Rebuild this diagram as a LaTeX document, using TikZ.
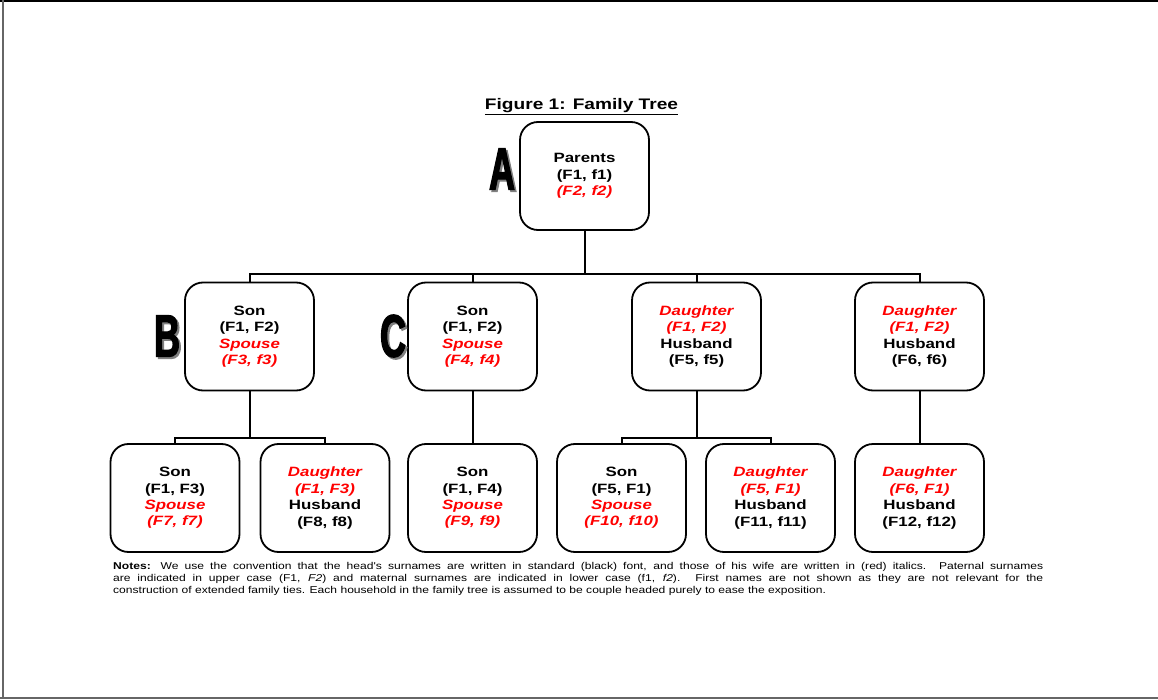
\documentclass[tikz,border=0pt]{standalone}
\usepackage{fontspec}
\setmainfont{Liberation Sans}
\newfontfamily\wfont[FakeStretch=1.25]{Liberation Sans}
\newfontfamily\nfont[FakeStretch=1.22]{Liberation Sans}
\newfontfamily\bigfont[FakeStretch=0.6,FakeBold=2]{Liberation Sans}
\definecolor{redtxt}{RGB}{255,0,0}
\newcommand{\rd}[1]{\textcolor{redtxt}{\itshape #1}}
\tikzset{
  famnode/.style={draw, line width=1.8pt, rounded corners=18pt, minimum width=129pt, minimum height=108pt, align=center, inner sep=2pt,
    font=\wfont\bfseries\fontsize{13.5}{16.4}\selectfont, execute at begin node={\rule{0pt}{14pt}}},
  famlink/.style={draw, line width=2pt},
  biglet/.style={font=\bigfont\bfseries\fontsize{60}{60}\selectfont, inner sep=0pt},
}
\begin{document}
\begin{tikzpicture}[x=1pt,y=-1pt]
\useasboundingbox (0,0) rectangle (1158,700);
% frame
\draw[line width=1.5pt] (0,1) -- (1158,1);
\draw[line width=2.5pt, gray!80!black] (3,0) -- (3,698);
\draw[line width=2pt, gray!80!black] (0,698) -- (1158,698);
% title
\node[font=\wfont\bfseries\fontsize{15.3}{18}\selectfont, inner sep=0pt] (title) at (581.5,106.5) {\underline{Figure 1: Family Tree}};
% boxes
\node[famnode] (P) at (584.5,176) {Parents\\(F1, f1)\\\rd{(F2, f2)}};
\node[famnode] (b1) at (249.5,336.5) {Son\\(F1, F2)\\\rd{Spouse}\\\rd{(F3, f3)}};
\node[famnode] (b2) at (472.5,336.5) {Son\\(F1, F2)\\\rd{Spouse}\\\rd{(F4, f4)}};
\node[famnode] (b3) at (696.5,336.5) {\rd{Daughter}\\\rd{(F1, F2)}\\Husband\\(F5, f5)};
\node[famnode] (b4) at (919.5,336.5) {\rd{Daughter}\\\rd{(F1, F2)}\\Husband\\(F6, f6)};
\node[famnode] (c1) at (175,498) {Son\\(F1, F3)\\\rd{Spouse}\\\rd{(F7, f7)}};
\node[famnode] (c2) at (325,498) {\rd{Daughter}\\\rd{(F1, F3)}\\Husband\\(F8, f8)};
\node[famnode] (c3) at (472.5,498) {Son\\(F1, F4)\\\rd{Spouse}\\\rd{(F9, f9)}};
\node[famnode] (c4) at (621.5,498) {Son\\(F5, F1)\\\rd{Spouse}\\\rd{(F10, f10)}};
\node[famnode] (c5) at (770.5,498) {\rd{Daughter}\\\rd{(F5, F1)}\\Husband\\(F11, f11)};
\node[famnode] (c6) at (919.5,498) {\rd{Daughter}\\\rd{(F6, F1)}\\Husband\\(F12, f12)};
% letters
\node[biglet, text=gray] (As) at (504,171) {A};
\node[biglet] (A) at (502,169) {A};
\node[biglet, text=gray] (Bs) at (169,338) {B};
\node[biglet] (B) at (167,336) {B};
\node[biglet, text=gray] (Cs) at (395,338) {C};
\node[biglet] (C) at (393,336) {C};
% connectors
\coordinate (j0) at (584.5,274);
\coordinate (j1) at (249.5,438);
\coordinate (j3) at (696.5,438);
\draw[famlink] (P.south) -- (j0);
\draw[famlink] (b1.north) |- (j0);
\draw[famlink] (b2.north) |- (j0);
\draw[famlink] (b3.north) |- (j0);
\draw[famlink] (b4.north) |- (j0);
\draw[famlink] (b1.south) -- (j1);
\draw[famlink] (c1.north) |- (j1);
\draw[famlink] (c2.north) |- (j1);
\draw[famlink] (b2.south) -- (c3.north);
\draw[famlink] (b3.south) -- (j3);
\draw[famlink] (c4.north) |- (j3);
\draw[famlink] (c5.north) |- (j3);
\draw[famlink] (b4.south) -- (c6.north);
% notes
\node[anchor=north west, inner sep=0pt, align=left, font=\nfont\fontsize{9.9}{12}\selectfont] (notes) at (113,562) {%
\makebox[930pt][s]{\textbf{Notes:} We use the convention that the head's surnames are written in standard (black) font, and those of his wife are written in (red) italics. Paternal surnames}\\
\makebox[930pt][s]{are indicated in upper case (F1, \textit{F2}) and maternal surnames are indicated in lower case (f1, \textit{f2}). First names are not shown as they are not relevant for the}\\
construction of extended family ties. Each household in the family tree is assumed to be couple headed purely to ease the exposition.};
\end{tikzpicture}
\end{document}
